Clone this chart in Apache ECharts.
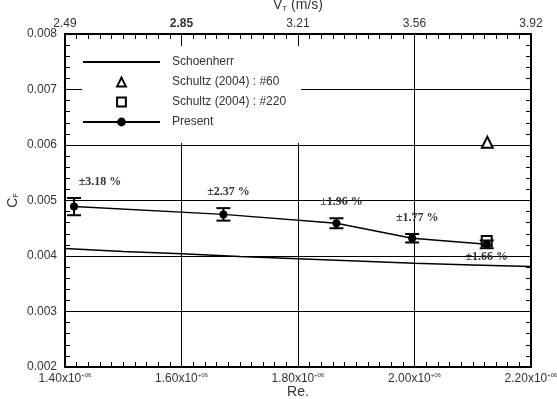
<!DOCTYPE html>
<html><head><meta charset="utf-8">
<script src="https://cdn.jsdelivr.net/npm/echarts@6/dist/echarts.min.js"></script>
<style>html,body{margin:0;padding:0;background:#fff}#c{width:557px;height:399px}</style>
</head><body><div id="c"></div>
<script>
// ---- data ----
const reTickLabels = ['1.40', '1.60', '1.80', '2.00', '2.20'];
const vtTickLabels = ['2.49', '2.85', '3.21', '3.56', '3.92'];
const cfTickLabels = ['0.002', '0.003', '0.004', '0.005', '0.006', '0.007', '0.008'];
const schoenherrRe = [1.4e6, 1.5e6, 1.6e6, 1.7e6, 1.8e6, 1.9e6, 2.0e6, 2.1e6, 2.2e6];
const schoenherrCf = [0.004135, 0.00408, 0.00404, 0.00399, 0.00395, 0.00391, 0.00387, 0.00384, 0.00381];
const schultz60Re = [2.125e6];
const schultz60Cf = [0.00605];
const schultz220Re = [2.124e6];
const schultz220Cf = [0.00427];
const presentRe = [1.4155e6, 1.672e6, 1.866e6, 1.996e6, 2.124e6];
const presentCf = [0.00489, 0.00475, 0.00459, 0.00432, 0.00421];
const uncertaintyPct = [3.18, 2.37, 1.96, 1.77, 1.66];

// ---- chart ----
const BLACK = '#000';
const TXT = '#333';
const FONT = '"Liberation Sans", Arial, sans-serif';
const chart = echarts.init(document.getElementById('c'), null, {renderer: 'canvas'});
const reIndex = v => Math.round((v - 1.4e6) / 2e5);
const cfIndex = v => Math.round((v - 0.002) / 0.001);

const labelOffsets = [[26, -25], [5, -22], [5, -21], [5, -20], [0, 13]];

const axisLine = {show: true, lineStyle: {color: BLACK, width: 2}};
const axisTick = {show: true, inside: true, length: 9, lineStyle: {color: BLACK, width: 1}};

const option = {
  animation: false,
  backgroundColor: '#fff',
  grid: {left: 65, right: 26, top: 34, bottom: 32, containLabel: false, outerBoundsMode: 'none'},
  legend: {
    left: 82, top: 46, orient: 'vertical',
    backgroundColor: '#fff',
    padding: [9, 15, 14, 0],
    itemWidth: 77, itemHeight: 11, itemGap: 6,
    textStyle: {fontFamily: FONT, fontSize: 12, color: TXT, lineHeight: 14, padding: [0, 0, 0, 7]},
    data: [
      {name: 'Schoenherr', itemStyle: {opacity: 0}},
      {name: 'Schultz (2004) : #60', lineStyle: {opacity: 0}},
      {name: 'Schultz (2004) : #220', lineStyle: {opacity: 0}},
      {name: 'Present'}
    ],
    selectedMode: false
  },
  xAxis: [
    {
      type: 'value', position: 'bottom', min: 1.4e6, max: 2.2e6, interval: 2e5,
      axisLine: axisLine, axisTick: axisTick,
      minorTick: {show: true, splitNumber: 10, length: 5, lineStyle: {color: BLACK}},
      splitLine: {show: true, lineStyle: {color: BLACK, width: 1}},
      name: 'Re.', nameLocation: 'middle', nameGap: 18, nameMoveOverlap: false,
      nameTextStyle: {fontFamily: FONT, fontSize: 14, color: TXT},
      axisLabel: {
        margin: 5,
        formatter: v => '{a|' + reTickLabels[reIndex(v)] + 'x10}{s|+06}',
        rich: {
          a: {fontFamily: FONT, fontSize: 12, color: TXT},
          s: {fontFamily: FONT, fontSize: 6, color: TXT, padding: [0, 0, 8, 0]}
        }
      }
    },
    {
      type: 'value', position: 'top', min: 1.4e6, max: 2.2e6, interval: 2e5,
      axisLine: axisLine, axisTick: axisTick,
      minorTick: {show: true, splitNumber: 10, length: 5, lineStyle: {color: BLACK}},
      splitLine: {show: false},
      name: '{a|V}{t|T}{a| (m/s)}', nameLocation: 'middle', nameGap: 21, nameMoveOverlap: false,
      nameTextStyle: {
        rich: {
          a: {fontFamily: FONT, fontSize: 14, color: TXT},
          t: {fontFamily: FONT, fontSize: 8, color: TXT, padding: [8, 0, 0, 0]}
        }
      },
      axisLabel: {
        margin: 4,
        formatter: v => { const i = reIndex(v); return (i === 1 ? '{b|' : '{a|') + vtTickLabels[i] + '}'; },
        rich: {
          a: {fontFamily: FONT, fontSize: 12, color: TXT},
          b: {fontFamily: FONT, fontSize: 12, color: TXT, fontWeight: 'bold'}
        }
      }
    }
  ],
  yAxis: [
    {
      type: 'value', position: 'left', min: 0.002, max: 0.008, interval: 0.001,
      axisLine: axisLine, axisTick: axisTick,
      minorTick: {show: true, splitNumber: 5, length: 5, lineStyle: {color: BLACK}},
      splitLine: {show: true, lineStyle: {color: BLACK, width: 1}},
      name: '{a|C}{f|F}', nameLocation: 'middle', nameGap: 45, nameRotate: 90, nameMoveOverlap: false,
      nameTextStyle: {
        rich: {
          a: {fontFamily: FONT, fontSize: 14, color: TXT},
          f: {fontFamily: FONT, fontSize: 7, color: TXT, padding: [7, 0, 0, 0]}
        }
      },
      axisLabel: {
        margin: 8, fontFamily: FONT, fontSize: 12, color: TXT,
        formatter: v => cfTickLabels[cfIndex(v)]
      }
    },
    {
      type: 'value', position: 'right', min: 0.002, max: 0.008, interval: 0.001,
      axisLine: axisLine, axisTick: axisTick,
      minorTick: {show: true, splitNumber: 5, length: 5, lineStyle: {color: BLACK}},
      splitLine: {show: false},
      axisLabel: {show: false}
    }
  ],
  series: [
    {
      name: 'Schoenherr', type: 'line', xAxisIndex: 0, yAxisIndex: 0,
      data: schoenherrRe.map((x, i) => [x, schoenherrCf[i]]),
      symbol: 'none', smooth: false,
      lineStyle: {color: BLACK, width: 1.5}, itemStyle: {color: BLACK}, z: 3
    },
    {
      name: 'Schultz (2004) : #60', type: 'line', xAxisIndex: 0, yAxisIndex: 0,
      data: schultz60Re.map((x, i) => [x, schultz60Cf[i]]),
      symbol: 'emptyTriangle', symbolSize: 11, showAllSymbol: true,
      lineStyle: {color: BLACK, width: 0}, itemStyle: {color: BLACK, borderColor: BLACK, borderWidth: 1.6}, z: 4
    },
    {
      name: 'Schultz (2004) : #220', type: 'line', xAxisIndex: 0, yAxisIndex: 0,
      data: schultz220Re.map((x, i) => [x, schultz220Cf[i]]),
      symbol: 'emptyRect', symbolSize: 10, showAllSymbol: true,
      lineStyle: {color: BLACK, width: 0}, itemStyle: {color: BLACK, borderColor: BLACK, borderWidth: 1.6}, z: 4
    },
    {
      name: 'Present', type: 'line', xAxisIndex: 0, yAxisIndex: 0,
      data: presentRe.map((x, i) => ({
        value: [x, presentCf[i]],
        label: {
          show: true, position: 'inside', offset: labelOffsets[i],
          formatter: '\u00b1' + uncertaintyPct[i].toFixed(2) + ' %',
          fontFamily: '"Liberation Serif", "Times New Roman", serif',
          fontWeight: 'bold', fontSize: 12, color: TXT
        }
      })),
      symbol: 'circle', symbolSize: 8, showAllSymbol: true,
      lineStyle: {color: BLACK, width: 1.5}, itemStyle: {color: BLACK}, z: 5
    },
    {
      name: 'errorbars', type: 'custom', xAxisIndex: 0, yAxisIndex: 0,
      data: presentRe.map((x, i) => [x, presentCf[i] * (1 - uncertaintyPct[i] / 100), presentCf[i] * (1 + uncertaintyPct[i] / 100)]),
      encode: {x: 0, y: [1, 2]},
      silent: true, z: 5,
      renderItem: function (params, api) {
        const x = api.value(0);
        const lo = api.coord([x, api.value(1)]);
        const hi = api.coord([x, api.value(2)]);
        const hw = 7;
        const st = {stroke: BLACK, lineWidth: 2};
        return {
          type: 'group', children: [
            {type: 'line', shape: {x1: lo[0], y1: lo[1], x2: hi[0], y2: hi[1]}, style: st},
            {type: 'line', shape: {x1: lo[0] - hw, y1: lo[1], x2: lo[0] + hw, y2: lo[1]}, style: st},
            {type: 'line', shape: {x1: hi[0] - hw, y1: hi[1], x2: hi[0] + hw, y2: hi[1]}, style: st}
          ]
        };
      }
    }
  ]
};
chart.setOption(option);
</script>
</body></html>
